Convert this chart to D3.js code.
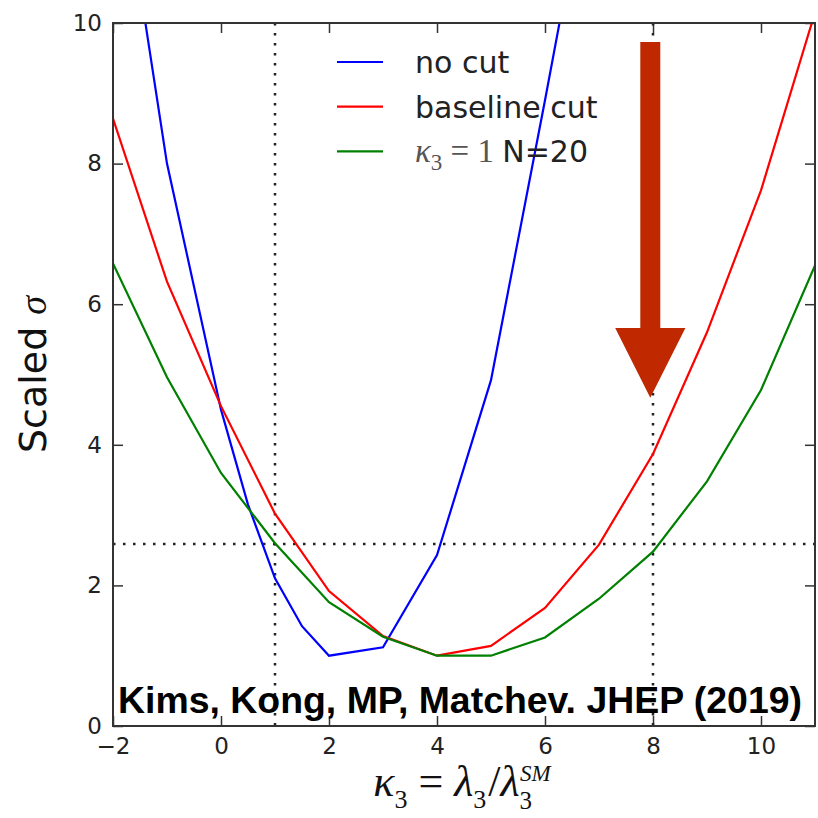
<!DOCTYPE html>
<meta charset="utf-8">
<script src="https://d3js.org/d3.v7.min.js"></script>
<head>
    <title>Scaled sigma vs kappa3</title>
    <style>
        body { margin: 0; background: #fff; }
        .tick text { font-family: "DejaVu Sans", sans-serif; font-size: 23px; fill: #222; }
        .tick line { stroke: #333; stroke-width: 1.5; }
    </style>
</head>
<body>
    <div id="my_dataviz"></div>
</body>
<script>
    // values
    const kappa = [-2, -1, 0, 1, 2, 3, 4, 5, 6, 7, 8, 9, 10, 11];
    const baselineCut = [8.64, 6.32, 4.55, 3.02, 1.92, 1.28, 1.0, 1.14, 1.68, 2.58, 3.87, 5.6, 7.62, 10.15];
    const kappa1N20 = [6.58, 4.96, 3.6, 2.6, 1.76, 1.27, 1.0, 1.0, 1.26, 1.81, 2.48, 3.48, 4.78, 6.55];
    const noCutX = [-2, -1, 0, 0.5, 1, 1.5, 2, 3, 4, 5, 6, 7];
    const noCutY = [13.0, 8.0, 4.5, 3.15, 2.1, 1.42, 1.0, 1.12, 2.43, 4.92, 8.9, 13.0];

    const xTicks = [-2, 0, 2, 4, 6, 8, 10];
    const yTicks = [0, 2, 4, 6, 8, 10];
    const refX = [1, 8];      // vertical dotted lines
    const refY = 2.59;        // horizontal dotted line
    const legendLabels = ["no cut", "baseline cut", "N=20"];
    const note = "Kims, Kong, MP, Matchev. JHEP (2019)";

    // arrow (data coordinates)
    const arrow = {x: 7.95, top: 9.73, headBase: 5.66, tip: 4.67, shaftHalf: 0.185, headHalf: 0.65};

    const margin = {top: 23, right: 3, bottom: 92, left: 113},
          width = 818 - margin.left - margin.right,
          height = 818 - margin.top - margin.bottom;

    const root = d3.select("#my_dataviz")
        .append("svg")
        .attr("width", 818)
        .attr("height", 818);

    const svg = root.append("g")
        .attr("transform", `translate(${margin.left}, ${margin.top})`);

    const x = d3.scaleLinear().domain([-2, 11]).range([0, width]);
    const y = d3.scaleLinear().domain([0, 10]).range([height, 0]);

    svg.append("clipPath").attr("id", "clip")
        .append("rect").attr("width", width).attr("height", height);

    // axes, ticks pointing inward
    svg.append("g")
        .attr("transform", `translate(0, ${height})`)
        .call(d3.axisBottom(x).tickValues(xTicks).tickSizeInner(-10).tickSizeOuter(0).tickPadding(12))
        .call(g => g.select(".domain").remove());
    svg.append("g")
        .call(d3.axisTop(x).tickValues(xTicks).tickSizeInner(-10).tickSizeOuter(0).tickFormat(""))
        .call(g => g.select(".domain").remove());
    svg.append("g")
        .call(d3.axisLeft(y).tickValues(yTicks).tickSizeInner(-10).tickSizeOuter(0).tickPadding(11))
        .call(g => g.select(".domain").remove());
    svg.append("g")
        .attr("transform", `translate(${width}, 0)`)
        .call(d3.axisRight(y).tickValues(yTicks).tickSizeInner(-10).tickSizeOuter(0).tickFormat(""))
        .call(g => g.select(".domain").remove());

    // dotted reference lines
    const dotted = svg.append("g")
        .attr("stroke", "#222")
        .attr("stroke-width", 2.5)
        .attr("stroke-dasharray", "2.5,7.5")
        .attr("fill", "none");
    dotted.selectAll("line.v")
        .data(refX)
        .join("line")
        .attr("class", "v")
        .attr("x1", d => x(d)).attr("x2", d => x(d))
        .attr("y1", y(10)).attr("y2", y(0));
    dotted.append("line")
        .attr("x1", x(-2)).attr("x2", x(11))
        .attr("y1", y(refY)).attr("y2", y(refY));

    // curves
    const line = d3.line().x(d => x(d[0])).y(d => y(d[1]));
    const series = [
        {pts: noCutX.map((v, i) => [v, noCutY[i]]), color: "#0000ff"},
        {pts: kappa.map((v, i) => [v, baselineCut[i]]), color: "#ff0000"},
        {pts: kappa.map((v, i) => [v, kappa1N20[i]]), color: "#008000"}
    ];
    svg.append("g")
        .attr("clip-path", "url(#clip)")
        .selectAll("path")
        .data(series)
        .join("path")
        .attr("d", d => line(d.pts))
        .attr("fill", "none")
        .attr("stroke", d => d.color)
        .attr("stroke-width", 2.2);

    // big arrow
    const arrowPts = [
        [arrow.x - arrow.shaftHalf, arrow.top],
        [arrow.x + arrow.shaftHalf, arrow.top],
        [arrow.x + arrow.shaftHalf, arrow.headBase],
        [arrow.x + arrow.headHalf, arrow.headBase],
        [arrow.x, arrow.tip],
        [arrow.x - arrow.headHalf, arrow.headBase],
        [arrow.x - arrow.shaftHalf, arrow.headBase]
    ];
    svg.append("polygon")
        .attr("points", arrowPts.map(p => [x(p[0]), y(p[1])].join(",")).join(" "))
        .attr("fill", "#c02800");

    // frame
    svg.append("rect")
        .attr("width", width).attr("height", height)
        .attr("fill", "none")
        .attr("stroke", "#333")
        .attr("stroke-width", 2);

    // legend
    const legend = svg.append("g")
        .attr("transform", `translate(${337 - margin.left}, ${62 - margin.top})`);
    const rows = legend.selectAll("g")
        .data(series)
        .join("g")
        .attr("transform", (d, i) => `translate(0, ${i * 44.7})`);
    rows.append("line")
        .attr("x1", 0).attr("x2", 46)
        .attr("stroke", d => d.color)
        .attr("stroke-width", 2.2);
    const ltext = rows.append("text")
        .attr("x", 78)
        .attr("dy", "0.36em")
        .style("font-family", "DejaVu Sans, sans-serif")
        .style("font-size", "30px")
        .style("fill", "#222");
    ltext.filter((d, i) => i < 2).text((d, i) => legendLabels[i]);
    const mt = ltext.filter((d, i) => i === 2);
    mt.append("tspan").style("font-family", "Liberation Serif, serif").style("font-style", "italic").style("font-size", "33px").style("fill", "#555").text("κ");
    mt.append("tspan").style("font-family", "Liberation Serif, serif").style("font-size", "23px").style("fill", "#555").attr("dy", 8).text("3");
    mt.append("tspan").style("font-family", "Liberation Serif, serif").style("font-size", "33px").style("fill", "#555").attr("dy", -8).text(" = 1 ");
    mt.append("tspan").text(legendLabels[2]);

    // citation note
    svg.append("text")
        .attr("x", 118 - margin.left)
        .attr("y", 713 - margin.top)
        .attr("textLength", 684)
        .attr("lengthAdjust", "spacingAndGlyphs")
        .style("font-family", "Liberation Sans, Arial, sans-serif")
        .style("font-weight", "bold")
        .style("font-size", "36px")
        .style("fill", "#000")
        .text(note);

    // y label
    const ylab = root.append("text")
        .attr("transform", `translate(46, ${margin.top + height / 2}) rotate(-90)`)
        .attr("text-anchor", "middle")
        .style("font-family", "DejaVu Sans, sans-serif")
        .style("font-size", "38px")
        .style("fill", "#111");
    ylab.append("tspan").text("Scaled ");
    ylab.append("tspan").style("font-family", "Liberation Serif, serif").style("font-style", "italic").text("σ");

    // x label
    const xlab = root.append("text")
        .attr("x", margin.left + width / 2 - 2)
        .attr("y", 796)
        .attr("text-anchor", "middle")
        .style("font-family", "Liberation Serif, serif")
        .style("font-size", "44px")
        .style("fill", "#111");
    xlab.append("tspan").style("font-style", "italic").text("κ");
    xlab.append("tspan").attr("dy", 12).style("font-size", "26px").text("3");
    xlab.append("tspan").attr("dy", -12).text(" = ");
    xlab.append("tspan").style("font-style", "italic").text("λ");
    xlab.append("tspan").attr("dy", 12).style("font-size", "26px").text("3");
    xlab.append("tspan").attr("dy", -12).attr("dx", 2).text("/");
    xlab.append("tspan").style("font-style", "italic").text("λ");
    xlab.append("tspan").attr("dy", 13).style("font-size", "25px").text("3");
    xlab.append("tspan").attr("dx", -12).attr("dy", -28).style("font-size", "23px").style("font-style", "italic").text("SM");
</script>
